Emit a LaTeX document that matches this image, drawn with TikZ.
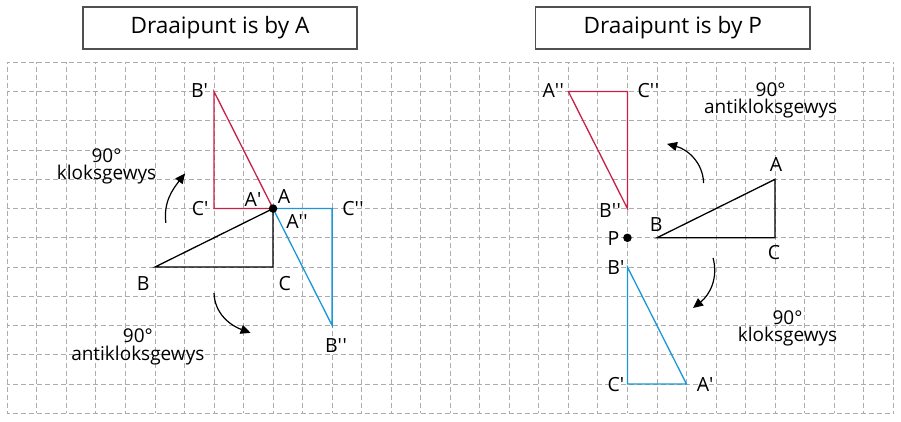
\documentclass[tikz,border=0pt]{standalone}
\usepackage{fontspec}
\setmainfont{Open Sans}
\usetikzlibrary{arrows.meta}
\definecolor{redtri}{RGB}{200,32,72}
\definecolor{bluetri}{RGB}{28,150,214}
\definecolor{gridgray}{RGB}{172,172,172}
\definecolor{boxgray}{RGB}{80,80,80}
\newcommand{\pr}{\textquotesingle}
\newcommand{\ppr}{\textquotesingle\kern0.5pt\textquotesingle}
\tikzset{
  gridline/.style={gridgray, line width=0.9pt, dash pattern=on 5pt off 3pt, dash phase=2.5pt},
  tri/.style={line width=1.3pt, line join=miter},
  lbl/.style={inner sep=0pt, font=\fontsize{19.5}{20}\selectfont},
  note/.style={inner sep=0pt, align=center, font=\fontsize{19}{17.5}\selectfont},
  rotarrow/.style={line width=1.2pt, -{Triangle[length=10pt,width=9pt]}},
  titlebox/.style={draw=boxgray, line width=1.3pt},
  titletext/.style={inner sep=0pt, font=\fontsize{22.6}{26}\selectfont},
  pivot/.style={circle, fill=black, inner sep=0pt, minimum size=8.5pt}
}
\begin{document}
\begin{tikzpicture}[x=29.53pt,y=29.25pt]
\useasboundingbox (-7.3pt,-8.7pt) rectangle (893.7pt,413.3pt);
% grid
\foreach \c in {0,...,30} \draw[gridline] (\c,0) -- (\c,12);
\foreach \r in {0,...,12} \draw[gridline] (0,\r) -- (30,\r);
% title boxes
\draw[titlebox] (2.563,12.455) rectangle (11.842,13.89);
\node[titletext] (t1) at (7.2025,13.17) {Draaipunt is by A};
\draw[titlebox] (17.894,12.455) rectangle (27.18,13.89);
\node[titletext] (t2) at (22.537,13.17) {Draaipunt is by P};

% ---------- left: pivot at A ----------
\coordinate (LA) at (9,7);
\coordinate (LB) at (5,5);
\coordinate (LC) at (9,5);
\coordinate (LB1) at (7,11);
\coordinate (LC1) at (7,7);
\coordinate (LB2) at (11,3);
\coordinate (LC2) at (11,7);
\draw[tri] (LA) -- (LB) -- (LC) -- cycle;
\draw[tri, redtri] (LA) -- (LC1) -- (LB1) -- cycle;
\draw[tri, bluetri] (LA) -- (LC2) -- (LB2) -- cycle;
\node[pivot] (LAdot) at (LA) {};
\node[lbl] (lB1) at (6.51,11.05) {B\pr};
\node[lbl] (lC1) at (6.53,7.01) {C\pr};
\node[lbl] (lA1) at (8.32,7.30) {A\pr};
\node[lbl] (lA) at (9.37,7.41) {A};
\node[lbl] (lA2) at (9.81,6.55) {A\ppr};
\node[lbl] (lC2) at (11.71,7.01) {C\ppr};
\node[lbl] (lB) at (4.60,4.44) {B};
\node[lbl] (lC) at (9.40,4.44) {C};
\node[lbl] (lB2) at (11.13,2.31) {B\ppr};
\node[note] (lcw) at (3.36,8.44) {90°\\kloksgewys};
\node[note] (lacw) at (4.42,2.27) {90°\\antikloksgewys};
\coordinate (la1s) at (5.37,6.51);
\coordinate (la1e) at (6.02,8.20);
\draw[rotarrow] (la1s) to[out=97,in=232] (la1e);
\coordinate (la2s) at (7.0,4.11);
\coordinate (la2e) at (8.24,2.75);
\draw[rotarrow] (la2s) to[out=-88,in=160] (la2e);

% ---------- right: pivot at P ----------
\coordinate (RA) at (26,8);
\coordinate (RB) at (22,6);
\coordinate (RC) at (26,6);
\coordinate (RP) at (21,6);
\coordinate (RA1) at (23,1);
\coordinate (RB1) at (21,5);
\coordinate (RC1) at (21,1);
\coordinate (RA2) at (19,11);
\coordinate (RB2) at (21,7);
\coordinate (RC2) at (21,11);
\draw[tri] (RA) -- (RB) -- (RC) -- cycle;
\draw[tri, bluetri] (RA1) -- (RB1) -- (RC1) -- cycle;
\draw[tri, redtri] (RA2) -- (RB2) -- (RC2) -- cycle;
\node[pivot] (RPdot) at (RP) {};
\node[lbl] (rA2) at (18.49,11.03) {A\ppr};
\node[lbl] (rC2) at (21.71,11.03) {C\ppr};
\node[lbl] (rA) at (26.03,8.52) {A};
\node[lbl] (rB2) at (20.41,6.92) {B\ppr};
\node[lbl] (rB) at (21.97,6.47) {B};
\node[lbl] (rP) at (20.53,5.98) {P};
\node[lbl] (rC) at (25.96,5.50) {C};
\node[lbl] (rB1) at (20.61,4.98) {B\pr};
\node[lbl] (rC1) at (20.61,0.99) {C\pr};
\node[lbl] (rA1) at (23.63,0.99) {A\pr};
\node[note] (racw) at (25.85,10.69) {90°\\antikloksgewys};
\node[note] (rcw) at (26.42,2.90) {90°\\kloksgewys};
\coordinate (ra1s) at (23.58,7.87);
\coordinate (ra1e) at (22.34,9.21);
\draw[rotarrow] (ra1s) to[out=92,in=-15] (ra1e);
\coordinate (ra2s) at (23.90,5.31);
\coordinate (ra2e) at (23.22,3.60);
\draw[rotarrow] (ra2s) to[out=-75,in=38] (ra2e);
\end{tikzpicture}
\end{document}
